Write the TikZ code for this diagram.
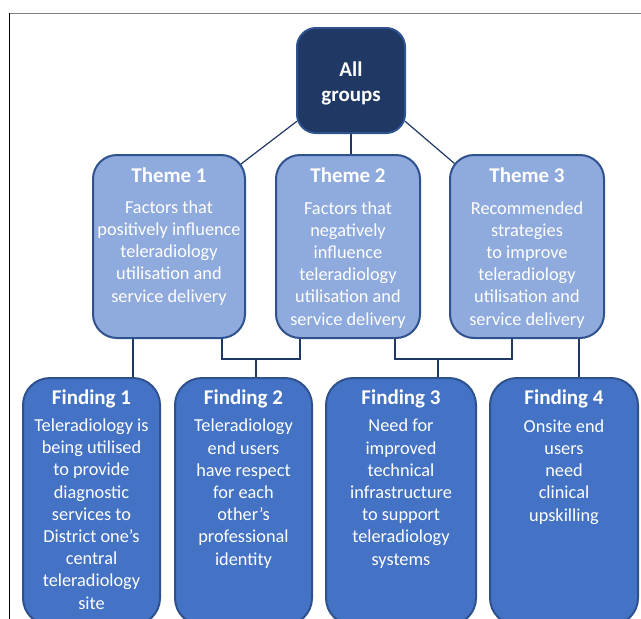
\documentclass[tikz,border=0pt]{standalone}
\usepackage{fontspec}
\setmainfont{Carlito}
\usetikzlibrary{backgrounds}
\definecolor{navy}{HTML}{1F3864}
\definecolor{edgeblue}{HTML}{2F528F}
\definecolor{themeblue}{HTML}{8FAADC}
\definecolor{findblue}{HTML}{4472C4}
\definecolor{linkblue}{HTML}{203864}

\begin{document}
\begin{tikzpicture}[x=1pt, y=-1pt,
    box/.style={draw=edgeblue, line width=2pt, inner sep=0pt, outer sep=0pt},
    themebox/.style={box, fill=themeblue, rounded corners=24pt, minimum height=183pt},
    findbox/.style={box, fill=findblue, rounded corners=27pt, minimum height=247pt},
    head/.style={text=white, font=\fontsize{21}{25}\selectfont\bfseries, align=center, anchor=base, inner sep=0pt},
    body/.style={text=white, font=\fontsize{18.3}{22.2}\selectfont, align=center, anchor=base, inner sep=0pt},
    link/.style={draw=linkblue, line width=1.2pt}]
            \path[use as bounding box, clip] (0,0) rectangle (641,619);
            \draw[gray, line width=1pt] (9,13) -- (641,13);
            \draw[black, line width=1pt] (9,13) -- (9,619);
            % top (text nodes sit on the baseline of their last line)
            \node[box, fill=navy, rounded corners=19pt, minimum width=108pt, minimum height=105pt] (allg) at (351,80.5) {};
            \node[head] (allgtxt) at (351,101) {All\\groups};
            % themes
            \node[themebox, minimum width=152pt] (t1) at (169,246.5) {};
            \node[themebox, minimum width=144pt] (t2) at (348,246.5) {};
            \node[themebox, minimum width=154pt] (t3) at (527,246.5) {};
            \node[head] (t1head) at (169,182) {Theme 1};
            \node[head] (t2head) at (348,182) {Theme 2};
            \node[head] (t3head) at (527,182) {Theme 3};
            \node[body] (t1txt) at (169,302) {Factors that\\positively influence\\teleradiology\\utilisation and\\service delivery};
            \node[body] (t2txt) at (348,325) {Factors that\\negatively\\influence\\teleradiology\\utilisation and\\service delivery};
            \node[body] (t3txt) at (527,325) {Recommended\\strategies\\to improve\\teleradiology\\utilisation and\\service delivery};
            % findings
            \node[findbox, minimum width=137pt] (f1) at (91.5,501.5) {};
            \node[findbox, minimum width=137pt] (f2) at (243.5,501.5) {};
            \node[findbox, minimum width=150pt] (f3) at (401,501.5) {};
            \node[findbox, minimum width=148pt] (f4) at (564,501.5) {};
            \node[head] (f1head) at (91.5,404) {Finding 1};
            \node[head] (f2head) at (243.5,404) {Finding 2};
            \node[head] (f3head) at (401,404) {Finding 3};
            \node[head] (f4head) at (564,404) {Finding 4};
            \node[body] (f1txt) at (91.5,609) {Teleradiology is\\being utilised\\to provide\\diagnostic\\services to\\District one’s\\central\\teleradiology\\site};
            \node[body] (f2txt) at (243.5,565) {Teleradiology\\end users\\have respect\\for each\\other’s\\professional\\identity};
            \node[body] (f3txt) at (401,565) {Need for\\improved\\technical\\infrastructure\\to support\\teleradiology\\systems};
            \node[body] (f4txt) at (564,521) {Onsite end\\users\\need\\clinical\\upskilling};
            % connectors
            \coordinate (j12) at (256,359);
            \coordinate (j23) at (438,359);
            \begin{pgfonlayer}{background}
            \draw[link] (allg.south) -- (allg.south |- t2.north);
            \draw[link] (allg.217) -- ([xshift=-6pt,yshift=-10.5pt]t1.north east);
            \draw[link] (allg.323) -- ([xshift=8pt,yshift=-11.5pt]t3.north west);
            \draw[link] ([xshift=-36pt]t1.south) -- ([xshift=-36pt]t1.south |- f1.north);
            \draw[link] ([xshift=53pt]t1.south) |- (j12) -| ([xshift=-48pt]t2.south);
            \draw[link] (j12) -- (j12 |- f2.north);
            \draw[link] ([xshift=47pt]t2.south) |- (j23) -| ([xshift=-15pt]t3.south);
            \draw[link] (j23) -- (j23 |- f3.north);
            \draw[link] ([xshift=52pt]t3.south) -- ([xshift=52pt]t3.south |- f4.north);
            \end{pgfonlayer}
        \end{tikzpicture}
\end{document}
